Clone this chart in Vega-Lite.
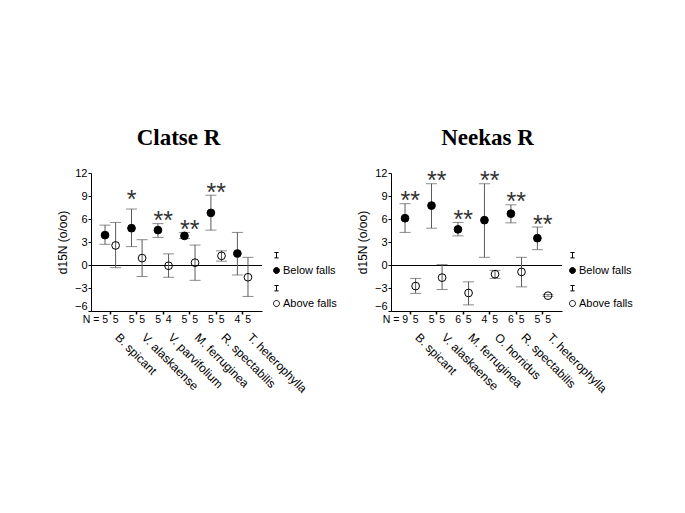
{
  "$schema": "https://vega.github.io/schema/vega-lite/v6.json",
  "padding": {"left": 56, "top": 127, "right": 0, "bottom": 0},
  "datasets": {
    "pts": [
      {"site": "Clatse R", "species": "B. spicant", "group": "Below falls", "mean": 3.9, "lo": 2.7, "hi": 5.2, "n": "N = 5", "sig": ""},
      {"site": "Clatse R", "species": "B. spicant", "group": "Above falls", "mean": 2.55, "lo": -0.35, "hi": 5.55, "n": "5", "sig": ""},
      {"site": "Clatse R", "species": "V. alaskaense", "group": "Below falls", "mean": 4.8, "lo": 2.4, "hi": 7.3, "n": "5", "sig": "*"},
      {"site": "Clatse R", "species": "V. alaskaense", "group": "Above falls", "mean": 0.9, "lo": -1.5, "hi": 3.3, "n": "5", "sig": ""},
      {"site": "Clatse R", "species": "V. parvifolium", "group": "Below falls", "mean": 4.55, "lo": 3.6, "hi": 5.4, "n": "5", "sig": "**"},
      {"site": "Clatse R", "species": "V. parvifolium", "group": "Above falls", "mean": -0.1, "lo": -1.6, "hi": 1.45, "n": "4", "sig": ""},
      {"site": "Clatse R", "species": "M. ferruginea", "group": "Below falls", "mean": 3.8, "lo": 3.45, "hi": 4.25, "n": "5", "sig": "**"},
      {"site": "Clatse R", "species": "M. ferruginea", "group": "Above falls", "mean": 0.3, "lo": -2.0, "hi": 2.6, "n": "5", "sig": ""},
      {"site": "Clatse R", "species": "R. spectabilis", "group": "Below falls", "mean": 6.8, "lo": 4.55, "hi": 9.1, "n": "5", "sig": "**"},
      {"site": "Clatse R", "species": "R. spectabilis", "group": "Above falls", "mean": 1.2, "lo": 0.5, "hi": 1.85, "n": "5", "sig": ""},
      {"site": "Clatse R", "species": "T. heterophylla", "group": "Below falls", "mean": 1.5, "lo": -1.3, "hi": 4.25, "n": "4", "sig": ""},
      {"site": "Clatse R", "species": "T. heterophylla", "group": "Above falls", "mean": -1.6, "lo": -4.1, "hi": 1.0, "n": "5", "sig": ""},
      {"site": "Neekas R", "species": "B. spicant", "group": "Below falls", "mean": 6.1, "lo": 4.25, "hi": 8.0, "n": "N = 9", "sig": "**"},
      {"site": "Neekas R", "species": "B. spicant", "group": "Above falls", "mean": -2.75, "lo": -3.7, "hi": -1.75, "n": "5", "sig": ""},
      {"site": "Neekas R", "species": "V. alaskaense", "group": "Below falls", "mean": 7.75, "lo": 4.8, "hi": 10.6, "n": "5", "sig": "**"},
      {"site": "Neekas R", "species": "V. alaskaense", "group": "Above falls", "mean": -1.65, "lo": -3.2, "hi": 0.05, "n": "5", "sig": ""},
      {"site": "Neekas R", "species": "M. ferruginea", "group": "Below falls", "mean": 4.65, "lo": 3.8, "hi": 5.55, "n": "6", "sig": "**"},
      {"site": "Neekas R", "species": "M. ferruginea", "group": "Above falls", "mean": -3.65, "lo": -5.2, "hi": -2.2, "n": "5", "sig": ""},
      {"site": "Neekas R", "species": "O. horridus", "group": "Below falls", "mean": 5.85, "lo": 1.0, "hi": 10.6, "n": "4", "sig": "**"},
      {"site": "Neekas R", "species": "O. horridus", "group": "Above falls", "mean": -1.2, "lo": -1.75, "hi": -0.7, "n": "5", "sig": ""},
      {"site": "Neekas R", "species": "R. spectabilis", "group": "Below falls", "mean": 6.7, "lo": 5.5, "hi": 7.85, "n": "6", "sig": "**"},
      {"site": "Neekas R", "species": "R. spectabilis", "group": "Above falls", "mean": -0.9, "lo": -2.85, "hi": 1.0, "n": "5", "sig": ""},
      {"site": "Neekas R", "species": "T. heterophylla", "group": "Below falls", "mean": 3.5, "lo": 2.0, "hi": 4.95, "n": "5", "sig": "**"},
      {"site": "Neekas R", "species": "T. heterophylla", "group": "Above falls", "mean": -4.0, "lo": -4.1, "hi": -3.85, "n": "5", "sig": ""}
    ]
  },
  "data": {"name": "pts"},
  "config": {
    "view": {"stroke": null},
    "axis": {"domainColor": "black", "tickColor": "black", "labelColor": "black", "titleColor": "black", "labelFont": "Liberation Sans", "titleFont": "Liberation Sans", "grid": false, "labelFontSize": 11, "titleFontWeight": "normal"},
    "title": {"font": "Liberation Serif", "fontWeight": "bold", "fontSize": 23, "color": "black", "anchor": "middle", "frame": "group", "baseline": "alphabetic", "offset": 17},
    "legend": {"labelFont": "Liberation Sans", "labelFontSize": 11, "labelColor": "black", "title": null, "orient": "none", "legendX": 180, "legendY": 92, "padding": 0, "rowPadding": 7, "labelOffset": 1, "symbolSize": 36, "symbolStrokeColor": "black", "symbolStrokeWidth": 1,
      "symbolType": "M-0.7,-6H0.7M0,-6V-4.2M-0.7,-4.2H0.7M1,0A1,1,0,1,1,-1,0A1,1,0,1,1,1,0Z"}
  },
  "spacing": 19,
  "resolve": {"scale": {"x": "independent", "xOffset": "independent"}, "legend": {"fill": "independent"}},
  "hconcat": [
    {
      "title": {"text": "Clatse R", "dx": 2},
      "width": 171, "height": 138,
      "transform": [{"filter": "datum.site === 'Clatse R'"}],
      "encoding": {
        "x": {"field": "species", "type": "nominal", "sort": null, "scale": {"paddingInner": 0, "paddingOuter": 0.23},
          "axis": {"title": null, "labelAngle": 45, "labelAlign": "left", "labelBaseline": "middle", "labelPadding": 21, "labelOffset": 7, "labelFontSize": 12, "tickSize": 3, "tickWidth": 1.5, "labelOverlap": false, "labelLimit": 0}},
        "y": {"type": "quantitative", "scale": {"domain": [-6, 12], "nice": false, "zero": false},
          "axis": {"title": "d15N (o/oo)", "titleFontSize": 12, "values": [-6, -3, 0, 3, 6, 9, 12], "tickSize": 3, "labelPadding": 1, "titlePadding": 5,
            "labelBaseline": {"condition": {"test": "datum.value === -6", "value": "bottom"}, "value": "middle"}}}
      },
      "layer": [
        {"mark": {"type": "rule", "color": "black", "strokeWidth": 1, "yOffset": 0.5}, "encoding": {"y": {"datum": 0}, "x": null}},
        {"mark": {"type": "rule", "color": "#5a5a5a", "strokeWidth": 1},
          "encoding": {"xOffset": {"field": "group", "type": "nominal", "sort": ["Below falls", "Above falls"], "scale": {"paddingOuter": 0.25}}, "y": {"field": "lo"}, "y2": {"field": "hi"}}},
        {"mark": {"type": "tick", "color": "#5a5a5a", "thickness": 1, "size": 11},
          "encoding": {"xOffset": {"field": "group", "type": "nominal", "sort": ["Below falls", "Above falls"], "scale": {"paddingOuter": 0.25}}, "y": {"field": "lo"}}},
        {"mark": {"type": "tick", "color": "#5a5a5a", "thickness": 1, "size": 11},
          "encoding": {"xOffset": {"field": "group", "type": "nominal", "sort": ["Below falls", "Above falls"], "scale": {"paddingOuter": 0.25}}, "y": {"field": "hi"}}},
        {"mark": {"type": "circle", "size": 60, "stroke": "black", "strokeWidth": 1, "opacity": 1},
          "encoding": {"xOffset": {"field": "group", "type": "nominal", "sort": ["Below falls", "Above falls"], "scale": {"paddingOuter": 0.25}}, "y": {"field": "mean"},
            "fill": {"field": "group", "type": "nominal", "scale": {"domain": ["Below falls", "Above falls"], "range": ["black", "transparent"]}, "legend": {}}}},
        {"transform": [{"filter": "datum.sig === '**'"}],
          "mark": {"type": "text", "font": "Liberation Sans", "fontSize": 25, "color": "#333", "baseline": "alphabetic", "align": "center", "dy": 5.5},
          "encoding": {"y": {"field": "hi"}, "text": {"field": "sig"}}},
        {"transform": [{"filter": "datum.sig === '*'"}],
          "mark": {"type": "text", "font": "Liberation Sans", "fontSize": 25, "color": "#333", "baseline": "alphabetic", "align": "center", "dy": -1.5},
          "encoding": {"xOffset": {"field": "group", "type": "nominal", "sort": ["Below falls", "Above falls"], "scale": {"paddingOuter": 0.25}}, "y": {"field": "hi"}, "text": {"field": "sig"}}},
        {"mark": {"type": "text", "font": "Liberation Sans", "fontSize": 10.5, "color": "black", "baseline": "top", "align": "right", "dy": 4, "dx": 3},
          "encoding": {"xOffset": {"field": "group", "type": "nominal", "sort": ["Below falls", "Above falls"], "scale": {"paddingOuter": 0.25}}, "y": {"datum": -6}, "text": {"field": "n"}}}
      ]
    },
    {
      "title": {"text": "Neekas R", "dx": 11},
      "width": 171, "height": 138,
      "transform": [{"filter": "datum.site === 'Neekas R'"}],
      "encoding": {
        "x": {"field": "species", "type": "nominal", "sort": null, "scale": {"paddingInner": 0, "paddingOuter": 0.23},
          "axis": {"title": null, "labelAngle": 45, "labelAlign": "left", "labelBaseline": "middle", "labelPadding": 21, "labelOffset": 7, "labelFontSize": 12, "tickSize": 3, "tickWidth": 1.5, "labelOverlap": false, "labelLimit": 0}},
        "y": {"type": "quantitative", "scale": {"domain": [-6, 12], "nice": false, "zero": false},
          "axis": {"title": "d15N (o/oo)", "titleFontSize": 12, "values": [-6, -3, 0, 3, 6, 9, 12], "tickSize": 3, "labelPadding": 1, "titlePadding": 5,
            "labelBaseline": {"condition": {"test": "datum.value === -6", "value": "bottom"}, "value": "middle"}}}
      },
      "layer": [
        {"mark": {"type": "rule", "color": "black", "strokeWidth": 1, "yOffset": 0.5}, "encoding": {"y": {"datum": 0}, "x": null}},
        {"mark": {"type": "rule", "color": "#5a5a5a", "strokeWidth": 1},
          "encoding": {"xOffset": {"field": "group", "type": "nominal", "sort": ["Below falls", "Above falls"], "scale": {"paddingOuter": 0.25}}, "y": {"field": "lo"}, "y2": {"field": "hi"}}},
        {"mark": {"type": "tick", "color": "#5a5a5a", "thickness": 1, "size": 11},
          "encoding": {"xOffset": {"field": "group", "type": "nominal", "sort": ["Below falls", "Above falls"], "scale": {"paddingOuter": 0.25}}, "y": {"field": "lo"}}},
        {"mark": {"type": "tick", "color": "#5a5a5a", "thickness": 1, "size": 11},
          "encoding": {"xOffset": {"field": "group", "type": "nominal", "sort": ["Below falls", "Above falls"], "scale": {"paddingOuter": 0.25}}, "y": {"field": "hi"}}},
        {"mark": {"type": "circle", "size": 60, "stroke": "black", "strokeWidth": 1, "opacity": 1},
          "encoding": {"xOffset": {"field": "group", "type": "nominal", "sort": ["Below falls", "Above falls"], "scale": {"paddingOuter": 0.25}}, "y": {"field": "mean"},
            "fill": {"field": "group", "type": "nominal", "scale": {"domain": ["Below falls", "Above falls"], "range": ["black", "transparent"]}, "legend": {"legendX": 176}}}},
        {"transform": [{"filter": "datum.sig === '**'"}],
          "mark": {"type": "text", "font": "Liberation Sans", "fontSize": 25, "color": "#333", "baseline": "alphabetic", "align": "center", "dy": 5.5},
          "encoding": {"y": {"field": "hi"}, "text": {"field": "sig"}}},
        {"mark": {"type": "text", "font": "Liberation Sans", "fontSize": 10.5, "color": "black", "baseline": "top", "align": "right", "dy": 4, "dx": 3},
          "encoding": {"xOffset": {"field": "group", "type": "nominal", "sort": ["Below falls", "Above falls"], "scale": {"paddingOuter": 0.25}}, "y": {"datum": -6}, "text": {"field": "n"}}}
      ]
    }
  ]
}
